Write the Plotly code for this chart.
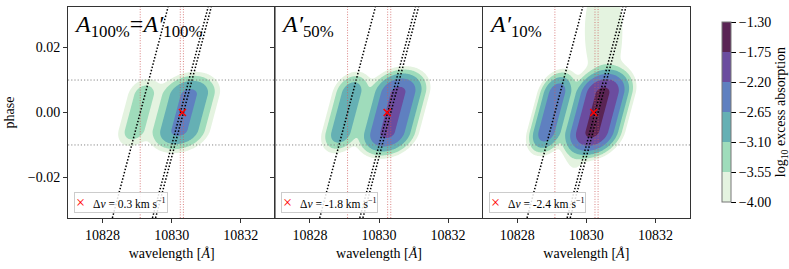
import numpy as np
import plotly.graph_objects as go

# ---------------- data ----------------
panel_titles = ["<i>A</i><sub>100%</sub>=<i>A′</i><sub>100%</sub>",
                "<i>A′</i><sub>50%</sub>",
                "<i>A′</i><sub>10%</sub>"]
delta_v_kms = [0.3, -1.8, -2.4]
legend_labels = ["Δ<i>v</i> = 0.3 km s<sup>−1</sup>",
                 "Δ<i>v</i> = -1.8 km s<sup>−1</sup>",
                 "Δ<i>v</i> = -2.4 km s<sup>−1</sup>"]
he_lines = [10829.09, 10830.25, 10830.34]      # He I triplet [A]
marker_rest_wl = 10830.30
marker_phase = 0.0

# blob model parameters per panel (left = 10829 line, main = 10830 doublet)
left_center_wl = [10829.05, 10829.05, 10829.00]
main_center_wl = [10830.36, 10830.40, 10830.32]
left_peak_log = [-3.30, -2.80, -2.38]
main_peak_log = [-2.55, -2.10, -1.65]
left_width_wl = [0.25, 0.235, 0.21]
main_width_wl = [0.345, 0.31, 0.29]
phase_flat_half = [0.0053, 0.0060, 0.0058]   # half-length of the in-transit plateau
phase_edge = 0.0028                          # softness of the ingress/egress ends
# faint extended features only present in the third panel
tail_center_wl = [10830.50, 10829.65]
tail_center_phase = [0.025, -0.013]
tail_peak_log = [-3.6, -3.8]
tail_width_wl = [0.40, 0.20]
tail_width_phase = [0.012, 0.004]

level_ticks = [-4.00, -3.55, -3.10, -2.65, -2.20, -1.75, -1.30]
level_colors = ["#e4f3e0", "#9fdcbb", "#65b0b4", "#5f80c0", "#6b4c9f", "#5a2454"]
K_p = 110.0          # planet RV semi-amplitude [km/s]
x_ticks = [10828, 10830, 10832]
y_ticks = [-0.02, 0.0, 0.02]
phase_lines = [-0.01, 0.01]
wl_range = [10827.0, 10833.0]
phase_range = [-0.0325, 0.0325]

# ---------------- build figure ----------------
c_kms = 299792.458
FONT = "Liberation Serif"
wl = np.linspace(wl_range[0], wl_range[1], 361)
ph = np.linspace(phase_range[0], phase_range[1], 261)
W, P = np.meshgrid(wl, ph)
vp = K_p * np.sin(2 * np.pi * P)


def trail_blob(center, peak, sw, flat):
    u = W - center * (1 + vp / c_kms)
    dp = np.maximum(np.abs(P) - flat, 0.0)
    return 10 ** peak * np.exp(-u ** 2 / (2 * sw ** 2) - dp ** 2 / (2 * phase_edge ** 2))


def plain_blob(cw, cp, peak, sw, sp):
    return 10 ** peak * np.exp(-(W - cw) ** 2 / (2 * sw ** 2) - (P - cp) ** 2 / (2 * sp ** 2))


step = level_ticks[1] - level_ticks[0]
nlev = len(level_ticks)
# contour colorscale: region below first level is white, bands take level colors
cs = [[0.0, "white"], [0.5 / nlev, "white"]]
for k, col in enumerate(level_colors):
    cs.append([(k + 0.5) / nlev, col])
    cs.append([(k + 1.5) / nlev if k < len(level_colors) - 1 else 1.0, col])

fig = go.Figure()
xa = ["x", "x2", "x3"]
ya = ["y", "y2", "y3"]

for i in range(3):
    field = trail_blob(left_center_wl[i], left_peak_log[i], left_width_wl[i], phase_flat_half[i])
    field += trail_blob(main_center_wl[i], main_peak_log[i], main_width_wl[i], phase_flat_half[i])
    if i == 2:
        for j in range(len(tail_center_wl)):
            field += plain_blob(tail_center_wl[j], tail_center_phase[j], tail_peak_log[j],
                                tail_width_wl[j], tail_width_phase[j])
    z = np.log10(np.maximum(field, 1e-12))
    fig.add_trace(go.Contour(
        x=wl, y=ph, z=z, xaxis=xa[i], yaxis=ya[i],
        contours=dict(start=level_ticks[0], end=level_ticks[-1], size=step,
                      coloring="fill", showlines=False),
        line=dict(width=0), colorscale=cs, showscale=False, hoverinfo="skip",
        showlegend=False))

    # red dotted rest wavelengths
    for lam in he_lines:
        fig.add_trace(go.Scatter(
            x=[lam, lam], y=phase_range, mode="lines", xaxis=xa[i], yaxis=ya[i],
            line=dict(color="rgba(205,90,90,0.75)", width=1, dash="1px,1.6px"),
            showlegend=False, hoverinfo="skip"))
    # black dotted planet trails
    for lam in he_lines:
        fig.add_trace(go.Scatter(
            x=lam * (1 + K_p * np.sin(2 * np.pi * ph) / c_kms), y=ph, mode="lines",
            xaxis=xa[i], yaxis=ya[i],
            line=dict(color="black", width=1.5, dash="1.5px,1.8px"),
            showlegend=False, hoverinfo="skip"))
    # red cross at the fitted centre
    fig.add_trace(go.Scatter(
        x=[marker_rest_wl * (1 + delta_v_kms[i] / c_kms)], y=[marker_phase],
        mode="markers", xaxis=xa[i], yaxis=ya[i],
        marker=dict(symbol="x-thin", size=7, color="red", line=dict(color="red", width=1.5)),
        name=legend_labels[i], showlegend=False, hoverinfo="skip"))

# colourbar via an invisible scatter
cb_scale = []
nb = len(level_colors)
for k, col in enumerate(level_colors):
    cb_scale.append([k / nb, col])
    cb_scale.append([(k + 1) / nb, col])
fig.add_trace(go.Scatter(
    x=[wl_range[0]], y=[0], mode="markers", xaxis="x3", yaxis="y3",
    marker=dict(size=1, opacity=0, color=[level_ticks[0]], colorscale=cb_scale,
                cmin=level_ticks[0], cmax=level_ticks[-1], showscale=True,
                colorbar=dict(x=1.035, xanchor="left", y=0.502, yanchor="middle",
                              len=0.948, lenmode="fraction", thickness=9,
                              outlinecolor="#777", outlinewidth=1,
                              tickvals=level_ticks, ticktext=[f"{t:.2f}".replace("-", "−") for t in level_ticks],
                              ticks="outside", ticklen=5, tickcolor="black",
                              tickfont=dict(family=FONT, size=14, color="black"),
                              title=dict(text="log<sub>10</sub> excess absorption", side="right",
                                         font=dict(family=FONT, size=14, color="black")))),
    showlegend=False, hoverinfo="skip"))

# horizontal phase lines across all panels
for p0 in phase_lines:
    fig.add_shape(type="line", xref="paper", yref="y", x0=0, x1=1, y0=p0, y1=p0,
                  line=dict(color="#888", width=1, dash="1.2px,2px"), layer="above")

axis_common = dict(range=wl_range, tickvals=x_ticks, ticktext=[str(t) for t in x_ticks],
                   ticks="outside", ticklen=4, tickcolor="#333", showline=True, mirror=True,
                   linecolor="#333", linewidth=1, showgrid=False, zeroline=False,
                   automargin=False,
                   tickfont=dict(family=FONT, size=14, color="black"),
                   title=dict(text="wavelength [<i>Å</i>]", standoff=6,
                              font=dict(family=FONT, size=14, color="black")))
yaxis_common = dict(range=phase_range, tickvals=y_ticks, ticks="outside", ticklen=4,
                    tickcolor="#333", showline=True, mirror=True, linecolor="#333",
                    linewidth=1, showgrid=False, zeroline=False, automargin=False,
                    tickfont=dict(family=FONT, size=14, color="black"))

doms = [[0, 1 / 3], [1 / 3, 2 / 3], [2 / 3, 1]]
layout = dict(
    width=789, height=269, margin=dict(l=68, r=99, t=7, b=51, autoexpand=False),
    paper_bgcolor="white", plot_bgcolor="white", showlegend=False,
    font=dict(family=FONT, size=14, color="black"),
)
for i in range(3):
    sfx = "" if i == 0 else str(i + 1)
    layout["xaxis" + sfx] = dict(axis_common, domain=doms[i], anchor="y" + sfx)
    yd = dict(yaxis_common, anchor="x" + sfx, domain=[0, 1])
    if i == 0:
        yd["tickformat"] = ".2f"
        yd["title"] = dict(text="phase", standoff=9, font=dict(family=FONT, size=14, color="black"))
    else:
        yd["showticklabels"] = False
        yd["matches"] = "y"
    layout["yaxis" + sfx] = yd

fig.update_layout(**layout)

for i in range(3):
    ref = "x" if i == 0 else "x" + str(i + 1)
    yref = "y" if i == 0 else "y" + str(i + 1)
    fig.add_annotation(text=panel_titles[i], xref=ref + " domain", yref=yref + " domain",
                       x=0.02, y=0.99, xanchor="left", yanchor="top", showarrow=False,
                       font=dict(family=FONT, size=24, color="black"))
    # legend box with the red cross entry
    fig.add_annotation(
        text="<span style='color:red;font-size:16px'>×</span>   " + legend_labels[i],
        xref=ref + " domain", yref=yref + " domain", x=0.029, y=0.024,
        xanchor="left", yanchor="bottom", showarrow=False, align="left",
        bgcolor="rgba(255,255,255,0.85)", bordercolor="#ccc", borderwidth=1, borderpad=1,
        font=dict(family=FONT, size=11.5, color="black"))

fig.write_html("out.html", config={"displayModeBar": False},
               post_script="document.body.style.margin='0';document.body.style.padding='0';")
